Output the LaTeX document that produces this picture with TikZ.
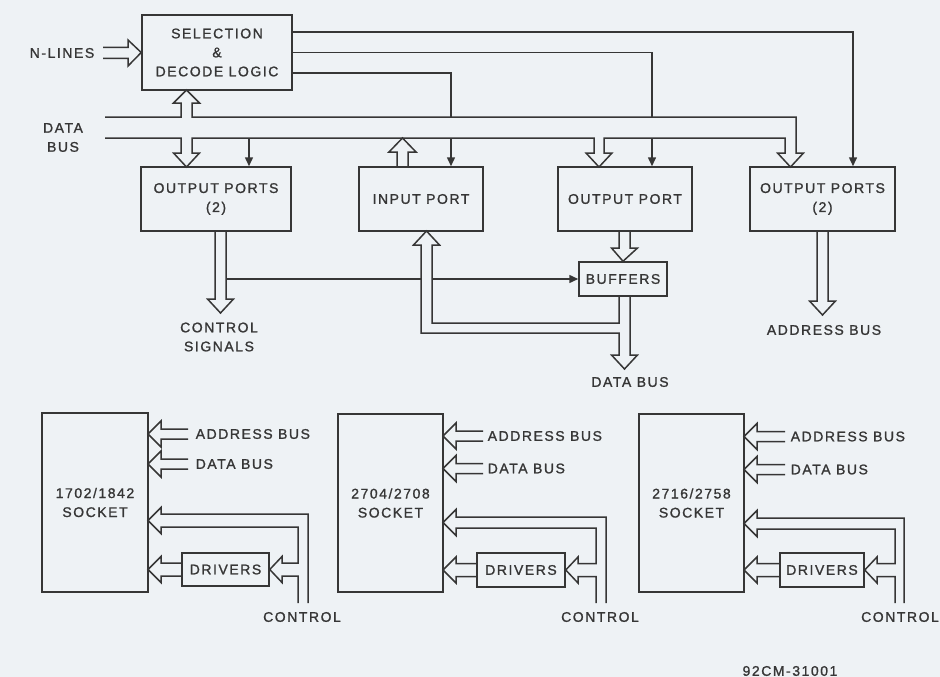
\documentclass[tikz,border=0pt]{standalone}
\usepackage{fontspec}
\setmainfont{Liberation Sans}[LetterSpace=11,FakeBold=1.2]
\usetikzlibrary{arrows.meta}
\definecolor{paper}{HTML}{EEF2F5}
\definecolor{ink}{HTML}{363636}
\begin{document}
\begin{tikzpicture}[x=1pt,y=-1pt,line width=1.5pt,color=ink,line join=miter,
  every node/.style={font=\fontsize{14}{19}\selectfont,inner sep=0pt,align=center},
  box/.style n args={2}{draw,minimum width=#1,minimum height=#2},
  sig/.style={-{Triangle[length=9pt,width=8pt]}}]
\fill[paper] (0,0) rectangle (940,677);
\useasboundingbox (0,0) rectangle (940,677);

% ---------- upper blocks ----------
\node[box={150pt}{75pt}] (sel) at (217,52.5) {SELECTION\\\&\\DECODE LOGIC};
\node[box={150pt}{64pt}] (op1) at (216,199) {OUTPUT PORTS\\(2)};
\node[box={124pt}{64pt}] (ip)  at (421,199) {INPUT PORT};
\node[box={134pt}{64pt}] (op)  at (625,199) {OUTPUT PORT};
\node[box={145pt}{64pt}] (op2) at (822.5,199) {OUTPUT PORTS\\(2)};
\node[box={88pt}{34pt}]  (buf) at (623,279) {BUFFERS};

\node[anchor=east] (nlines) at (95,53) {N-LINES};
\node (dbus) at (63,137.5) {DATA\\BUS};
\node (ctlsig) at (219,337) {CONTROL\\SIGNALS};
\node (dbus2) at (630,382) {DATA BUS};
\node (abus2) at (824,330) {ADDRESS BUS};

% N-lines hollow arrow
\draw (103,47.5) -- (128,47.5) -- (128,40) -- (sel.west) -- (128,66) -- (128,58.5) -- (103,58.5);

% data bus with its hollow branches
\coordinate (busL) at (105,117);
\draw (busL) -- (181,117) -- (181,103) -- (173.5,103) -- (186.5,90) -- (199.5,103) -- (192,103)
  -- (192,117) -- (796,117) -- (796,153) -- (803.5,153) -- (790.5,167) -- (777.5,153)
  -- (785,153) -- (785,138) -- (604,138) -- (604,153) -- (612,153) -- (599,167) -- (586,153)
  -- (594,153) -- (594,138) -- (192,138) -- (192,153) -- (199.5,153) -- (186.5,167)
  -- (173.5,153) -- (181,153) -- (181,138) -- (105,138);

% input port -> bus
\draw (397,167) -- (397,152) -- (389,152) -- (402.5,138) -- (416,152) -- (408,152) -- (408,167);

% control lines from selection logic
\draw[sig] ([yshift=20.5pt]sel.east) -| ([xshift=30.5pt]op2.north);
\draw (sel.east) -| (652,117);
\draw[sig] (652,138) -- ([xshift=27pt]op.north);
\draw (sel.east |- 0,73) -| (451,117);
\draw[sig] (451,138) -- ([xshift=30pt]ip.north);
\draw[sig] (249,138) -- ([xshift=33pt]op1.north);

% output ports (left) -> control signals
\draw (215,231) -- (215,299) -- (207.5,299) -- (220.5,313) -- (233.5,299) -- (226,299) -- (226,231);
\draw (226,279) -- (421,279);
\draw[sig] (432,279) -- (buf.west);

% output port -> buffers
\draw (619,231) -- (619,248) -- (611.5,248) -- (buf.north) -- (637.5,248) -- (630,248) -- (630,231);

% buffers -> data bus, branch to input port
\draw (619,296) -- (619,323) -- (432,323) -- (432,245) -- (439.5,245) -- (426.5,231) -- (413.5,245)
  -- (421,245) -- (421,333) -- (619,333) -- (619,355) -- (611.5,355) -- (624.5,369) -- (637.5,355)
  -- (630,355) -- (630,296);

% output ports (right) -> address bus
\draw (817,231) -- (817,301) -- (809.5,301) -- (822.5,315) -- (835.5,301) -- (828,301) -- (828,231);

% ---------- sockets ----------
\node[box={106pt}{179pt}] (s1) at (95,502.5) {1702/1842\\SOCKET};
\node[box={87pt}{33pt}] (d1) at (225.5,569.5) {DRIVERS};
\node[box={105pt}{178pt}] (s2) at (390.5,503) {2704/2708\\SOCKET};
\node[box={88pt}{34pt}] (d2) at (521,570) {DRIVERS};
\node[box={105pt}{178pt}] (s3) at (691.5,503) {2716/2758\\SOCKET};
\node[box={84pt}{34pt}] (d3) at (822,570) {DRIVERS};

\node[anchor=west] (a1) at (195,434) {ADDRESS BUS};
\node[anchor=west] (b1) at (195,464) {DATA BUS};
\node[anchor=west] (a2) at (487,436) {ADDRESS BUS};
\node[anchor=west] (b2) at (487,468.5) {DATA BUS};
\node[anchor=west] (a3) at (790,436.5) {ADDRESS BUS};
\node[anchor=west] (b3) at (790,469.5) {DATA BUS};
\node (c1) at (302,617) {CONTROL};
\node (c2) at (600,617) {CONTROL};
\node (c3) at (900,617) {CONTROL};
\node (code) at (790,671) {92CM-31001};

% socket 1
\draw (188,429) -- (161,429) -- (161,421) -- (148,434) -- (161,447) -- (161,439) -- (188,439);
\draw (188,459) -- (161,459) -- (161,451) -- (148,464) -- (161,477) -- (161,469) -- (188,469);
\draw (308,603) -- (308,514) -- (161,514) -- (161,507.5) -- (148,520.5) -- (161,533.5) -- (161,527)
  -- (298,527) -- (298,563) -- (282,563) -- (282,556.5) -- (d1.east) -- (282,582.5) -- (282,576)
  -- (298,576) -- (298,603);
\draw (d1.west |- 0,563) -- (161,563) -- (161,556.5) -- (148,569.5) -- (161,582.5) -- (161,576) -- (d1.west |- 0,576);

% socket 2
\draw (483,431) -- (456,431) -- (456,423) -- (443,436) -- (456,449) -- (456,441) -- (483,441);
\draw (483,463.5) -- (456,463.5) -- (456,455.5) -- (443,468.5) -- (456,481.5) -- (456,473.5) -- (483,473.5);
\draw (606,603) -- (606,517) -- (456,517) -- (456,509.5) -- (443,522.5) -- (456,535.5) -- (456,528)
  -- (596,528) -- (596,563.5) -- (578,563.5) -- (578,557) -- (d2.east) -- (578,583) -- (578,576.5)
  -- (596,576.5) -- (596,603);
\draw (d2.west |- 0,563.5) -- (456,563.5) -- (456,557) -- (443,570) -- (456,583) -- (456,576.5) -- (d2.west |- 0,576.5);

% socket 3
\draw (785,431.5) -- (757,431.5) -- (757,423.5) -- (744,436.5) -- (757,449.5) -- (757,441.5) -- (785,441.5);
\draw (785,464.5) -- (757,464.5) -- (757,456.5) -- (744,469.5) -- (757,482.5) -- (757,474.5) -- (785,474.5);
\draw (904,603) -- (904,518) -- (757,518) -- (757,510.5) -- (744,523.5) -- (757,536.5) -- (757,529)
  -- (895,529) -- (895,563.5) -- (877,563.5) -- (877,557) -- (d3.east) -- (877,583) -- (877,576.5)
  -- (895,576.5) -- (895,603);
\draw (d3.west |- 0,563.5) -- (757,563.5) -- (757,557) -- (744,570) -- (757,583) -- (757,576.5) -- (d3.west |- 0,576.5);
\end{tikzpicture}
\end{document}
